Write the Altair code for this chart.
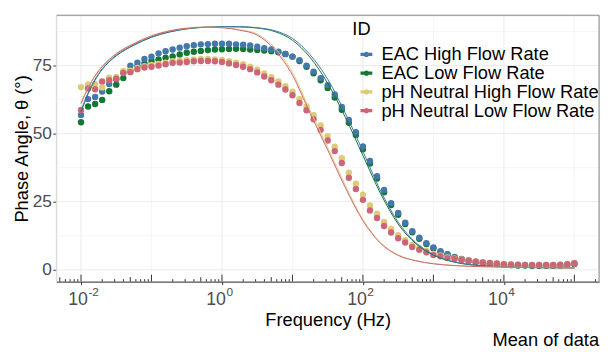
import altair as alt
import pandas as pd

# ---------------- data ----------------
ids = ["EAC High Flow Rate", "EAC Low Flow Rate",
       "pH Neutral High Flow Rate", "pH Neutral Low Flow Rate"]
colors = ["#4477AA", "#117733", "#DDCC77", "#CC6677"]

log_f = [-2.0, -1.9, -1.8, -1.7, -1.6, -1.5, -1.4, -1.3, -1.2, -1.1,
         -1.0, -0.9, -0.8, -0.7, -0.6, -0.5, -0.4, -0.3, -0.2, -0.1,
         0.0, 0.1, 0.2, 0.3, 0.4, 0.5, 0.6, 0.7, 0.8, 0.9,
         1.0, 1.1, 1.2, 1.3, 1.4, 1.5, 1.6, 1.7, 1.8, 1.9,
         2.0, 2.1, 2.2, 2.3, 2.4, 2.5, 2.6, 2.7, 2.8, 2.9,
         3.0, 3.1, 3.2, 3.3, 3.4, 3.5, 3.6, 3.7, 3.8, 3.9,
         4.0, 4.1, 4.2, 4.3, 4.4, 4.5, 4.6, 4.7, 4.8, 4.9, 5.0]

eac_high = [56.9, 62.7, 63.5, 65.5, 68.2, 70.0, 72.5, 75.0, 76.1, 77.4,
            78.3, 79.5, 80.3, 80.9, 81.6, 82.1, 82.5, 82.8, 82.9, 83.0,
            83.0, 83.0, 82.8, 82.7, 82.4, 81.9, 81.4, 80.9, 80.1, 79.2,
            78.3, 77.0, 75.0, 72.8, 70.4, 67.8, 64.4, 59.8, 55.0, 50.5,
            45.3, 40.0, 34.4, 29.3, 24.5, 20.9, 17.3, 14.2, 11.8, 9.8,
            8.2, 6.8, 5.7, 4.7, 4.0, 3.4, 3.0, 2.6, 2.3, 2.1,
            1.9, 1.8, 1.7, 1.7, 1.6, 1.6, 1.6, 1.6, 1.7, 1.9, 2.2]

eac_low = [54.2, 60.0, 60.9, 62.4, 65.6, 68.0, 70.4, 73.2, 74.8, 75.8,
           76.7, 77.3, 77.9, 78.4, 79.1, 79.7, 80.1, 80.4, 80.7, 80.9,
           81.0, 81.1, 81.2, 81.1, 80.9, 80.7, 80.5, 80.3, 79.9, 79.3,
           78.3, 76.7, 74.6, 72.2, 69.6, 66.8, 63.3, 58.8, 54.0, 49.5,
           44.3, 39.0, 33.5, 28.5, 23.8, 20.2, 16.8, 13.8, 11.4, 9.5,
           7.9, 6.6, 5.5, 4.6, 3.9, 3.3, 2.9, 2.5, 2.2, 2.0,
           1.8, 1.7, 1.6, 1.6, 1.5, 1.5, 1.5, 1.5, 1.6, 1.8, 2.1]

ph_high = [67.1, 68.1, 68.2, 67.0, 70.6, 70.8, 73.0, 73.1, 74.1, 74.8,
           75.2, 75.6, 76.1, 76.6, 76.8, 77.0, 77.3, 77.4, 77.4, 77.3,
           77.1, 76.6, 76.1, 75.5, 74.6, 73.5, 72.1, 70.7, 69.2, 67.4,
           65.4, 62.7, 60.0, 56.8, 53.0, 49.1, 45.2, 41.0, 35.7, 31.6,
           27.6, 23.6, 20.6, 17.6, 15.0, 12.7, 10.9, 9.1, 8.0, 6.9,
           5.8, 5.3, 4.6, 4.2, 3.8, 3.4, 3.1, 2.8, 2.5, 2.3,
           2.1, 2.0, 1.9, 1.8, 1.8, 1.8, 1.8, 1.8, 1.9, 2.1, 2.4]

ph_low = [58.7, 66.6, 66.3, 69.2, 69.6, 70.2, 72.3, 72.6, 73.7, 74.3,
          74.6, 75.0, 75.5, 76.0, 76.1, 76.3, 76.6, 76.7, 76.7, 76.6,
          76.3, 75.8, 75.2, 74.6, 73.7, 72.5, 71.0, 69.6, 68.0, 66.2,
          64.1, 61.3, 58.6, 55.3, 51.4, 47.5, 43.6, 39.2, 33.8, 29.7,
          25.7, 21.8, 19.0, 16.1, 13.7, 11.6, 10.0, 8.4, 7.4, 6.4,
          5.4, 5.0, 4.3, 4.0, 3.6, 3.3, 3.0, 2.7, 2.5, 2.3,
          2.1, 2.0, 1.9, 1.8, 1.8, 1.8, 1.8, 1.8, 1.9, 2.1, 2.4]

# fitted curves (read at selected frequencies)
fit_log_f = [-2.0, -1.9, -1.8, -1.7, -1.6, -1.5, -1.25, -1.0, -0.75, -0.5,
             -0.25, 0.0, 0.25, 0.5, 0.75, 1.0, 1.25, 1.5, 1.75, 2.0,
             2.25, 2.5, 2.75, 3.0, 3.25, 3.5, 3.75, 4.0, 4.5, 5.0]
fit_eac_high = [58.5, 65.0, 70.0, 73.8, 76.6, 78.8, 82.6, 85.5, 87.4, 88.5,
                89.1, 89.3, 89.3, 88.9, 87.8, 85.0, 79.0, 70.0, 57.5, 43.5,
                29.0, 17.5, 10.0, 5.6, 3.2, 2.0, 1.4, 1.1, 0.8, 0.7]
fit_eac_low = [58.0, 64.6, 69.7, 73.6, 76.4, 78.6, 82.5, 85.4, 87.3, 88.5,
               89.1, 89.3, 89.2, 88.8, 87.5, 84.3, 78.0, 68.5, 56.0, 42.0,
               28.0, 16.8, 9.6, 5.4, 3.1, 1.9, 1.4, 1.1, 0.8, 0.7]
fit_ph_high = [61.5, 67.0, 71.5, 74.8, 77.4, 79.5, 83.2, 86.0, 87.8, 88.8,
               89.2, 89.0, 88.2, 86.6, 81.5, 72.5, 58.5, 45.0, 31.0, 18.5,
               10.0, 5.5, 3.4, 2.3, 1.7, 1.3, 1.1, 1.0, 0.8, 0.7]
fit_ph_low = [61.0, 66.7, 71.2, 74.6, 77.2, 79.3, 83.0, 85.9, 87.7, 88.7,
              89.1, 88.9, 88.0, 86.2, 80.8, 71.5, 57.5, 44.0, 30.2, 18.0,
              9.7, 5.3, 3.3, 2.2, 1.6, 1.3, 1.1, 1.0, 0.8, 0.7]

x_major = [0.01, 1, 100, 10000]
x_minor = [0.1, 10, 1000, 100000]
y_major = [0, 25, 50, 75]
y_minor = [12.5, 37.5, 62.5, 87.5]
x_labels = [(0.01, "-2"), (1, "0"), (100, "2"), (10000, "4")]

# ---------------- build tables ----------------
series = {ids[0]: eac_high, ids[1]: eac_low, ids[2]: ph_high, ids[3]: ph_low}
draw_order = [ids[1], ids[0], ids[2], ids[3]]
pts = pd.DataFrame([
    {"f": 10 ** lf, "y": v, "ID": name}
    for name in draw_order for lf, v in zip(log_f, series[name])
])
fits = {ids[0]: fit_eac_high, ids[1]: fit_eac_low,
        ids[2]: fit_ph_high, ids[3]: fit_ph_low}
fit_df = pd.DataFrame([
    {"f": 10 ** lf, "y": v, "ID": name}
    for name in draw_order for lf, v in zip(fit_log_f, fits[name])
])

W, H = 550, 270
FONT = "Liberation Sans"
xlo, xhi = 10 ** -2.35, 10 ** 5.35
xs = alt.Scale(type="log", domain=[xlo, xhi], nice=False)
ys = alt.Scale(domain=[-4.35, 93.5], nice=False, zero=False)
cs = alt.Scale(domain=ids, range=colors)

x_axis = alt.Axis(
    values=x_major, labels=False, grid=False, tickSize=3,
    tickColor="#333333", domainColor="#333333", domainWidth=1,
    title="Frequency (Hz)", titleFont=FONT, titleFontSize=18.5,
    titleFontWeight="normal", titleColor="black",
    titleBaseline="alphabetic", titleY=44.5, titleX=W / 2)
y_axis = alt.Axis(
    values=y_major, grid=False, domain=False, tickSize=3.5,
    tickColor="#333333", labelPadding=1.5, labelFont=FONT,
    labelFontSize=17.5, labelColor="#4D4D4D",
    title="Phase Angle, θ (°)", titleFont=FONT, titleFontSize=18.5,
    titleFontWeight="normal", titleColor="black", titleAngle=270,
    titleAlign="center", titleBaseline="alphabetic",
    titleX=-29, titleY=H / 2)

X = lambda: alt.X("f:Q", scale=xs, axis=x_axis)
Y = lambda: alt.Y("y:Q", scale=ys, axis=y_axis)

def vrules(vals, width, color):
    return alt.Chart(pd.DataFrame({"f": vals})).mark_rule(
        strokeWidth=width, color=color).encode(x=X())

def hrules(vals, width, color):
    return alt.Chart(pd.DataFrame({"y": vals})).mark_rule(
        strokeWidth=width, color=color).encode(y=Y())

grid = [vrules(x_minor, 0.6, "#F0F0F0"), hrules(y_minor, 0.6, "#F0F0F0"),
        vrules(x_major, 1, "#EBEBEB"), hrules(y_major, 1, "#EBEBEB")]

points = alt.Chart(pts).mark_circle(size=42, opacity=1).encode(
    x=X(), y=Y(),
    color=alt.Color("ID:N", scale=cs, legend=alt.Legend(
        title="ID", orient="none", legendX=300, legendY=5,
        titleFont=FONT, titleFontSize=18.5, titleFontWeight="normal",
        titleColor="black", titlePadding=7, labelFont=FONT,
        labelFontSize=18.5, labelColor="black", labelOffset=6,
        labelLimit=400, rowPadding=0, padding=0, symbolOffset=5,
        symbolSize=144, symbolStrokeWidth=0, symbolOpacity=1,
        symbolType="M-1,-0.28 L1,-0.28 L1,0.28 L-1,0.28 Z "
                   "M-0.45,0 A0.45,0.45 0 1,1 0.45,0 A0.45,0.45 0 1,1 -0.45,0 Z")),
)

lines = alt.Chart(fit_df).mark_line(strokeWidth=1, interpolate="monotone").encode(
    x=X(), y=Y(),
    color=alt.Color("ID:N", scale=cs, legend=None),
    detail="ID:N",
)

# annotation log ticks along the bottom
long_t, mid_t, short_t = [], [], []
for k in range(-3, 6):
    for m in range(1, 10):
        v = m * 10 ** k
        if not (xlo <= v <= xhi):
            continue
        if m == 1:
            long_t.append(v)
        elif m == 5:
            mid_t.append(v)
        else:
            short_t.append(v)

def logticks(vals, length):
    return alt.Chart(pd.DataFrame({"f": vals})).mark_rule(
        strokeWidth=1, color="#333333").encode(
        x=X(), y=alt.value(H), y2=alt.value(H - length))

ticks = [logticks(long_t, 7), logticks(mid_t, 4.5), logticks(short_t, 2.5)]

# panel border (top, right, left)
one = pd.DataFrame({"a": [0]})
border = [
    alt.Chart(one).mark_rule(color="#8A8A8A", strokeWidth=1)
    .encode(x=alt.value(0), x2=alt.value(W), y=alt.value(0)),
    alt.Chart(one).mark_rule(color="#8A8A8A", strokeWidth=1)
    .encode(x=alt.value(W), y=alt.value(0), y2=alt.value(H)),
    alt.Chart(one).mark_rule(color="#D9D9D9", strokeWidth=1)
    .encode(x=alt.value(0), y=alt.value(0), y2=alt.value(H)),
]

# x tick labels 10^k
labels = []
for v, e in x_labels:
    off = 7 if len(e) == 2 else 4
    d = pd.DataFrame({"f": [v]})
    labels.append(alt.Chart(d).mark_text(
        text="10", align="right", baseline="alphabetic", dx=off,
        font=FONT, fontSize=18, color="#4D4D4D").encode(
        x=X(), y=alt.value(H + 23.5)))
    labels.append(alt.Chart(d).mark_text(
        text=e, align="left", baseline="alphabetic", dx=off + 0.5,
        font=FONT, fontSize=12, color="#4D4D4D").encode(
        x=X(), y=alt.value(H + 15)))

caption = alt.Chart(one).mark_text(
    text="Mean of data", align="right", baseline="alphabetic",
    font=FONT, fontSize=18.5, color="black").encode(
    x=alt.value(W), y=alt.value(H + 65))

chart = alt.layer(*grid, points, lines, *ticks, *border, *labels, caption).properties(
    width=W, height=H,
    autosize=alt.AutoSizeParams(type="none"),
    padding={"left": 49, "top": 5, "right": 3, "bottom": 70},
).configure_view(stroke=None).configure(background="white")

chart.save("out.html", embed_options={"renderer": "svg", "actions": False})
